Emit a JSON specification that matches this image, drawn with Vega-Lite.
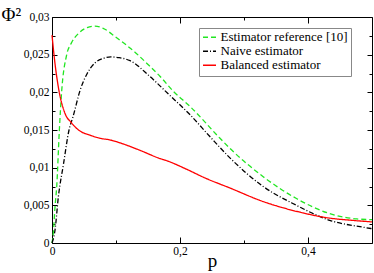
{
  "$schema": "https://vega.github.io/schema/vega-lite/v6.json",
  "width": 320,
  "height": 226,
  "autosize": "none",
  "padding": {"left": 52, "top": 17, "right": 2, "bottom": 30},
  "background": "white",
  "config": {
    "view": {"stroke": null},
    "font": "Liberation Serif, Times New Roman, DejaVu Serif, serif",
    "axis": {"grid": false, "domainColor": "black", "tickColor": "black", "labelFont": "Liberation Serif, Times New Roman, DejaVu Serif, serif", "labelFontSize": 11.5, "labelColor": "black", "titleFont": "Liberation Serif, Times New Roman, DejaVu Serif, serif", "titleColor": "black", "titleFontWeight": "normal"},
    "legend": {"labelFont": "Liberation Serif, Times New Roman, DejaVu Serif, serif"}
  },
  "data": {
    "values": [
      {"p": 0, "v": 0, "s": "Estimator reference [10]"},
      {"p": 0.002, "v": 0.0013, "s": "Estimator reference [10]"},
      {"p": 0.0047, "v": 0.0048, "s": "Estimator reference [10]"},
      {"p": 0.0073, "v": 0.0074, "s": "Estimator reference [10]"},
      {"p": 0.0115, "v": 0.015, "s": "Estimator reference [10]"},
      {"p": 0.015, "v": 0.02, "s": "Estimator reference [10]"},
      {"p": 0.023, "v": 0.025, "s": "Estimator reference [10]"},
      {"p": 0.03, "v": 0.0265, "s": "Estimator reference [10]"},
      {"p": 0.04, "v": 0.0277, "s": "Estimator reference [10]"},
      {"p": 0.055, "v": 0.0286, "s": "Estimator reference [10]"},
      {"p": 0.067, "v": 0.0288, "s": "Estimator reference [10]"},
      {"p": 0.08, "v": 0.0285, "s": "Estimator reference [10]"},
      {"p": 0.1, "v": 0.0273, "s": "Estimator reference [10]"},
      {"p": 0.13, "v": 0.0253, "s": "Estimator reference [10]"},
      {"p": 0.15, "v": 0.0237, "s": "Estimator reference [10]"},
      {"p": 0.169, "v": 0.0221, "s": "Estimator reference [10]"},
      {"p": 0.19, "v": 0.0201, "s": "Estimator reference [10]"},
      {"p": 0.216, "v": 0.0181, "s": "Estimator reference [10]"},
      {"p": 0.2625, "v": 0.0139, "s": "Estimator reference [10]"},
      {"p": 0.28, "v": 0.0124, "s": "Estimator reference [10]"},
      {"p": 0.33, "v": 0.0088, "s": "Estimator reference [10]"},
      {"p": 0.382, "v": 0.0059, "s": "Estimator reference [10]"},
      {"p": 0.434, "v": 0.0039, "s": "Estimator reference [10]"},
      {"p": 0.476, "v": 0.0032, "s": "Estimator reference [10]"},
      {"p": 0.5, "v": 0.0031, "s": "Estimator reference [10]"},
      {"p": 0, "v": 0, "s": "Naive estimator"},
      {"p": 0.0047, "v": 0.0017, "s": "Naive estimator"},
      {"p": 0.0099, "v": 0.0061, "s": "Naive estimator"},
      {"p": 0.018, "v": 0.0105, "s": "Naive estimator"},
      {"p": 0.0266, "v": 0.015, "s": "Naive estimator"},
      {"p": 0.033, "v": 0.0168, "s": "Naive estimator"},
      {"p": 0.044, "v": 0.0203, "s": "Naive estimator"},
      {"p": 0.055, "v": 0.0225, "s": "Naive estimator"},
      {"p": 0.067, "v": 0.0239, "s": "Naive estimator"},
      {"p": 0.08, "v": 0.0245, "s": "Naive estimator"},
      {"p": 0.092, "v": 0.0247, "s": "Naive estimator"},
      {"p": 0.105, "v": 0.0246, "s": "Naive estimator"},
      {"p": 0.122, "v": 0.0242, "s": "Naive estimator"},
      {"p": 0.153, "v": 0.0221, "s": "Naive estimator"},
      {"p": 0.184, "v": 0.0196, "s": "Naive estimator"},
      {"p": 0.216, "v": 0.017, "s": "Naive estimator"},
      {"p": 0.247, "v": 0.0141, "s": "Naive estimator"},
      {"p": 0.278, "v": 0.0113, "s": "Naive estimator"},
      {"p": 0.33, "v": 0.0075, "s": "Naive estimator"},
      {"p": 0.382, "v": 0.005, "s": "Naive estimator"},
      {"p": 0.434, "v": 0.003, "s": "Naive estimator"},
      {"p": 0.486, "v": 0.0021, "s": "Naive estimator"},
      {"p": 0.5, "v": 0.0019, "s": "Naive estimator"},
      {"p": 0, "v": 0.0276, "s": "Balanced estimator"},
      {"p": 0.0047, "v": 0.0238, "s": "Balanced estimator"},
      {"p": 0.0099, "v": 0.0207, "s": "Balanced estimator"},
      {"p": 0.0203, "v": 0.0172, "s": "Balanced estimator"},
      {"p": 0.03, "v": 0.016, "s": "Balanced estimator"},
      {"p": 0.0386, "v": 0.0152, "s": "Balanced estimator"},
      {"p": 0.045, "v": 0.0148, "s": "Balanced estimator"},
      {"p": 0.06, "v": 0.0143, "s": "Balanced estimator"},
      {"p": 0.075, "v": 0.0139, "s": "Balanced estimator"},
      {"p": 0.09, "v": 0.0137, "s": "Balanced estimator"},
      {"p": 0.106, "v": 0.0133, "s": "Balanced estimator"},
      {"p": 0.1375, "v": 0.0123, "s": "Balanced estimator"},
      {"p": 0.169, "v": 0.0112, "s": "Balanced estimator"},
      {"p": 0.18, "v": 0.0109, "s": "Balanced estimator"},
      {"p": 0.21, "v": 0.0098, "s": "Balanced estimator"},
      {"p": 0.24, "v": 0.0086, "s": "Balanced estimator"},
      {"p": 0.278, "v": 0.0073, "s": "Balanced estimator"},
      {"p": 0.33, "v": 0.0055, "s": "Balanced estimator"},
      {"p": 0.382, "v": 0.0042, "s": "Balanced estimator"},
      {"p": 0.434, "v": 0.0033, "s": "Balanced estimator"},
      {"p": 0.47, "v": 0.003, "s": "Balanced estimator"},
      {"p": 0.5, "v": 0.0028, "s": "Balanced estimator"}
    ]
  },
  "layer": [
    {
      "mark": {"type": "line", "strokeWidth": 1.3, "interpolate": "monotone"},
      "encoding": {
        "x": {
          "field": "p", "type": "quantitative",
          "scale": {"domain": [0, 0.5], "nice": false},
          "axis": {
            "orient": "bottom",
            "values": [0, 0.1, 0.2, 0.3, 0.4],
            "labelExpr": "indexof([0, 0.2, 0.4], datum.value) >= 0 ? replace(toString(datum.value), '.', ',') : ''",
            "tickSize": {"condition": {"test": "indexof([0, 0.2, 0.4], datum.value) >= 0", "value": -6}, "value": -3},
            "labelPadding": 8,
            "labelFlush": false,
            "title": "p",
            "titleFontSize": 19,
            "titleX": 160,
            "titleY": 23,
            "titleBaseline": "alphabetic",
            "titleAlign": "center"
          }
        },
        "y": {
          "field": "v", "type": "quantitative",
          "scale": {"domain": [0, 0.03], "nice": false},
          "axis": {
            "orient": "left",
            "values": [0, 0.0025, 0.005, 0.0075, 0.01, 0.0125, 0.015, 0.0175, 0.02, 0.0225, 0.025, 0.0275, 0.03],
            "labelExpr": "abs(datum.value * 200 - round(datum.value * 200)) < 0.000001 ? replace(toString(datum.value), '.', ',') : ''",
            "tickSize": {"condition": {"test": "abs(datum.value * 200 - round(datum.value * 200)) < 0.000001", "value": -5}, "value": -3},
            "labelPadding": 8,
            "labelFlush": false,
            "title": "Φ²",
            "titleFontSize": 19,
            "titleAngle": 0,
            "titleX": -51,
            "titleY": 3,
            "titleAlign": "left",
            "titleBaseline": "alphabetic"
          }
        },
        "color": {
          "field": "s", "type": "nominal",
          "scale": {"domain": ["Estimator reference [10]", "Naive estimator", "Balanced estimator"], "range": ["#22e622", "#000000", "#ff0000"]},
          "legend": {
            "title": null,
            "orient": "none",
            "legendX": 147,
            "legendY": 11,
            "strokeColor": "#888888",
            "fillColor": "white",
            "padding": 3,
            "labelFontSize": 13,
            "labelColor": "black",
            "labelBaseline": "middle",
            "symbolType": "stroke",
            "symbolSize": 169,
            "symbolStrokeWidth": 1.5,
            "clipHeight": 12.5,
            "rowPadding": 0,
            "labelOffset": 3.5,
            "cornerRadius": 0
          }
        },
        "strokeDash": {
          "field": "s", "type": "nominal",
          "scale": {"domain": ["Estimator reference [10]", "Naive estimator", "Balanced estimator"], "range": [[5, 3], [5, 2, 1, 2], [1, 0]]},
          "legend": null
        }
      }
    },
    {
      "mark": {"type": "line", "opacity": 0},
      "encoding": {
        "x": {
          "field": "p", "type": "quantitative",
          "scale": {"domain": [0, 0.5], "nice": false},
          "axis": {"orient": "top", "values": [0, 0.1, 0.2, 0.3, 0.4], "labels": false, "title": null,
            "tickSize": {"condition": {"test": "indexof([0, 0.2, 0.4], datum.value) >= 0", "value": -6}, "value": -3}}
        },
        "y": {
          "field": "v", "type": "quantitative",
          "scale": {"domain": [0, 0.03], "nice": false},
          "axis": {"orient": "right", "values": [0, 0.0025, 0.005, 0.0075, 0.01, 0.0125, 0.015, 0.0175, 0.02, 0.0225, 0.025, 0.0275, 0.03], "labels": false, "title": null,
            "tickSize": {"condition": {"test": "abs(datum.value * 200 - round(datum.value * 200)) < 0.000001", "value": -5}, "value": -3}}
        },
        "detail": {"field": "s", "type": "nominal"}
      }
    }
  ],
  "resolve": {"axis": {"x": "independent", "y": "independent"}}
}
